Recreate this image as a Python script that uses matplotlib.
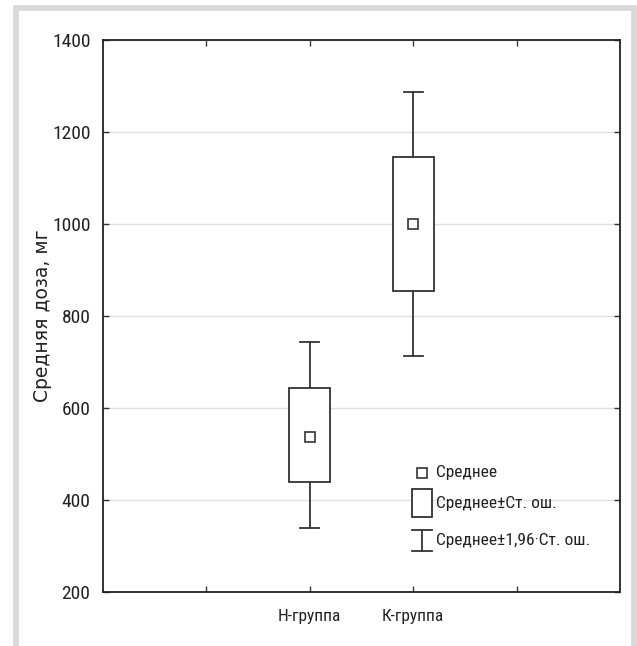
import matplotlib.pyplot as plt
from matplotlib.patches import Rectangle
from matplotlib.lines import Line2D
from matplotlib import font_manager

# Data
groups = ["Н-группа", "К-группа"]
positions = [2, 3]
means = [538, 1000]
se_low = [440, 854]
se_high = [644, 1146]
ci_low = [340, 712]
ci_high = [743, 1287]

# pick a narrow face if one exists
names = {f.name for f in font_manager.fontManager.ttflist}
narrow = [n for n in ["Liberation Sans Narrow", "DejaVu Sans Condensed",
                      "Roboto Condensed", "Roboto"] if n in names] + ["DejaVu Sans"]
ink = "#333333"

fig = plt.figure(figsize=(6.37, 6.46), dpi=100)
ax = fig.add_axes([103 / 637, 54 / 646, 517 / 637, 552 / 646])

# light grey frame around the figure
fig.add_artist(Rectangle((15.5 / 637, -0.05), (634 - 15.5) / 637, 1.05 - 8.5 / 646,
                         transform=fig.transFigure, fill=False,
                         edgecolor="#d9d9d9", linewidth=4.1))

stats = []
for i in range(len(groups)):
    stats.append({"med": means[i], "q1": se_low[i], "q3": se_high[i],
                  "whislo": ci_low[i], "whishi": ci_high[i], "mean": means[i],
                  "fliers": []})

ax.bxp(stats, positions=positions, widths=0.4, capwidths=0.18,
       showmeans=True, patch_artist=True, manage_ticks=False,
       boxprops=dict(facecolor="white", edgecolor=ink, linewidth=1.3),
       whiskerprops=dict(color=ink, linewidth=1.3),
       capprops=dict(color=ink, linewidth=1.3),
       medianprops=dict(linewidth=0),
       meanprops=dict(marker="s", markersize=7.5, markerfacecolor="white",
                      markeredgecolor=ink, markeredgewidth=1.2),
       zorder=3)

ax.set_xlim(0, 5)
ax.set_ylim(200, 1400)
ax.set_yticks([200, 400, 600, 800, 1000, 1200, 1400])
ax.set_xticks([1, 2, 3, 4])
ax.set_xticklabels([""] + groups + [""])
ax.yaxis.grid(True, color="#e0e0e0", linewidth=1, zorder=0)
ax.set_axisbelow(True)

ax.tick_params(direction="in", top=True, right=True, length=4, width=1,
               color=ink, labelcolor="#222222")
ax.tick_params(axis="y", pad=9, labelsize=14)
ax.tick_params(axis="x", pad=12, labelsize=12.5)
for lbl in ax.get_xticklabels() + ax.get_yticklabels():
    lbl.set_family(narrow)
for sp in ax.spines.values():
    sp.set_color("#222222")
    sp.set_linewidth(1.3)

ax.set_ylabel("Средняя доза, мг", fontsize=13.5, color="#222222")
ax.yaxis.set_label_coords(-0.099, 0.5)

# legend drawn by hand in axes fraction
tr = ax.transAxes
ax.add_line(Line2D([0.617], [0.2156], marker="s", markersize=7.5,
                   markerfacecolor="white", markeredgecolor=ink,
                   markeredgewidth=1.2, transform=tr))
ax.add_patch(Rectangle((0.598, 0.1359), 0.038, 0.0507, transform=tr,
                       facecolor="white", edgecolor=ink, linewidth=1.3))
ax.add_line(Line2D([0.617, 0.617], [0.0743, 0.1123], color=ink, lw=1.3, transform=tr))
ax.add_line(Line2D([0.598, 0.636], [0.1123, 0.1123], color=ink, lw=1.3, transform=tr))
ax.add_line(Line2D([0.598, 0.636], [0.0743, 0.0743], color=ink, lw=1.3, transform=tr))
leg_text = ["Среднее", "Среднее±Ст. ош.", "Среднее±1,96·Ст. ош."]
leg_y = [0.2156, 0.161, 0.094]
for t, y in zip(leg_text, leg_y):
    ax.text(0.644, y, t, transform=tr, va="center", ha="left",
            fontsize=12.5, family=narrow, color="#222222")

fig.savefig("out.png", dpi=100)
